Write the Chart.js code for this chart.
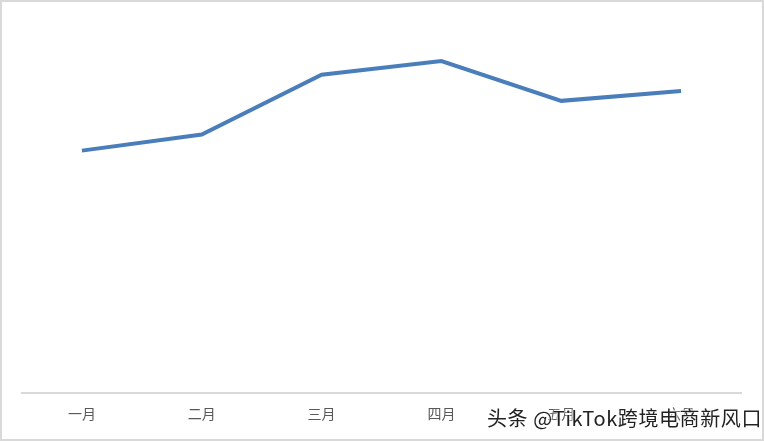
<!DOCTYPE html>
<html>
<head>
<meta charset="utf-8">
<script src="https://cdn.jsdelivr.net/npm/chart.js@4"></script>
<style>
  html, body { margin: 0; padding: 0; background: #fff; }
  #wrap { position: relative; width: 764px; height: 441px; box-sizing: border-box; border: 2px solid #d9d9d9; }
  #wrap canvas { position: absolute; left: -2px; top: -2px; }
  #mark {
    position: absolute; left: 485px; top: 401px;
    font-family: "Noto Sans CJK SC", sans-serif; font-size: 20px; color: #222;
    letter-spacing: 0.6px;
    text-shadow: 0 0 2px #fff, 0 0 2px #fff, 0 0 3px #fff; white-space: nowrap;
  }
</style>
</head>
<body>
<div id="wrap">
  <canvas id="lineChart" width="764" height="441"></canvas>
  <div id="mark">头条 @TikTok跨境电商新风口</div>
</div>
<script>
// data
var months = ['一月', '二月', '三月', '四月', '五月', '六月'];
var sales = [195, 208, 256, 267, 235, 243];

var ctx = document.getElementById('lineChart');
var myLineChart = new Chart(ctx, {
    type: 'line',
    data: {
        labels: months,
        datasets: [{
            data: sales,
            borderColor: '#4a7ebb',
            borderWidth: 4,
            pointRadius: 0,
            tension: 0,
            fill: false
        }]
    },
    options: {
        responsive: false,
        animation: false,
        layout: { padding: { left: 22, right: 23, top: 20, bottom: 15 } },
        plugins: { legend: { display: false }, tooltip: { enabled: false } },
        scales: {
            x: {
                offset: true,
                grid: { display: false },
                border: { display: true, color: '#d9d9d9', width: 2 },
                ticks: {
                    color: '#595959', padding: 4,
                    font: { family: '"Noto Sans CJK SC"', size: 14 }
                }
            },
            y: { display: false, min: 0, max: 300 }
        }
    }
});
</script>
</body>
</html>
